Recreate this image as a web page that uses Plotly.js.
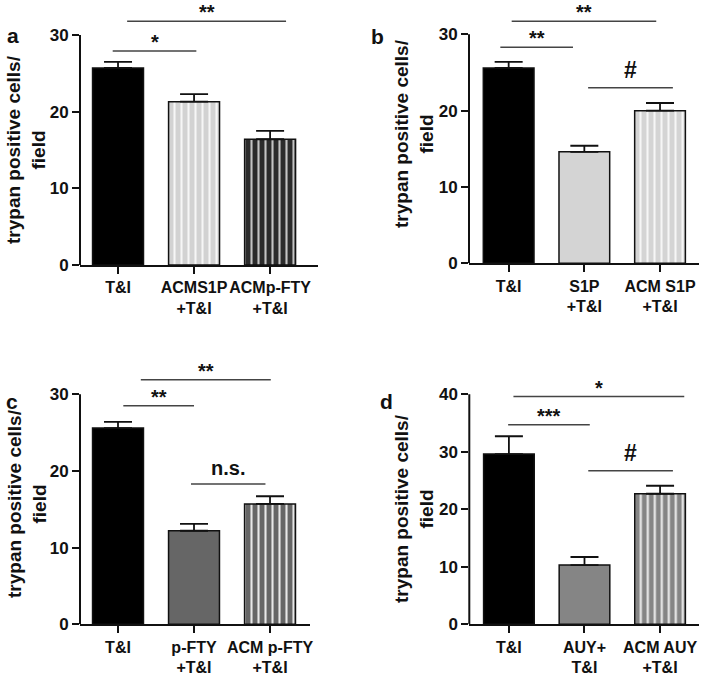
<!DOCTYPE html>
<html><head><meta charset="utf-8">
<script src="https://cdn.plot.ly/plotly-3.0.1.min.js"></script>
<style>html,body{margin:0;padding:0;background:#fff}#chart{width:712px;height:679px}</style>
</head><body><div id="chart"></div>
<script>
// ---------------- data ----------------
const yTitle = 'trypan positive cells/<br>field';
const yTicks30 = [0, 10, 20, 30];
const yTicks40 = [0, 10, 20, 30, 40];

// panel a
const catsA = ['T&I', 'ACMS1P<br>+T&I', 'ACMp-FTY<br>+T&I'];
const meanA = [25.7, 21.3, 16.4];
const semA  = [0.8, 1.0, 1.1];
const sigFromA = [-0.07, 0.12];
const sigToA   = [1.03, 2.21];
const sigYA    = [27.9, 31.8];
const sigTextA = ['*', '**'];

// panel b
const catsB = ['T&I', 'S1P<br>+T&I', 'ACM S1P<br>+T&I'];
const meanB = [25.6, 14.6, 20.0];
const semB  = [0.8, 0.8, 1.0];
const sigFromB = [-0.11, 0.04, 1.05];
const sigToB   = [0.85, 1.95, 2.17];
const sigYB    = [28.3, 31.7, 23.0];
const sigTextB = ['**', '**', '#'];

// panel c
const catsC = ['T&I', 'p-FTY<br>+T&I', 'ACM p-FTY<br>+T&I'];
const meanC = [25.6, 12.2, 15.7];
const semC  = [0.8, 0.9, 1.0];
const sigFromC = [0.07, 0.30, 0.96];
const sigToC   = [1.00, 2.01, 1.94];
const sigYC    = [28.5, 31.9, 18.3];
const sigTextC = ['**', '**', 'n.s.'];

// panel d
const catsD = ['T&I', 'AUY+<br>T&I', 'ACM AUY<br>+T&I'];
const meanD = [29.6, 10.3, 22.7];
const semD  = [3.1, 1.4, 1.4];
const sigFromD = [0.06, -0.01, 1.05];
const sigToD   = [2.32, 1.07, 2.17];
const sigYD    = [39.6, 34.7, 26.7];
const sigTextD = ['*', '***', '#'];

// ---------------- styles ----------------
const FONT = 'Liberation Sans, Arial, Helvetica, sans-serif';
const INK = '#111111';
const styleA = {fill: ['#000000', '#d2d2d2', '#2b2b2b'], shape: ['', '|', '|'], stripe: ['#000000', '#f6f6f6', '#c4c4c4']};
const styleB = {fill: ['#000000', '#d4d4d4', '#d4d4d4'], shape: ['', '', '|'], stripe: ['#000000', '#d4d4d4', '#f6f6f6']};
const styleC = {fill: ['#000000', '#666666', '#666666'], shape: ['', '', '|'], stripe: ['#000000', '#666666', '#e8e8e8']};
const styleD = {fill: ['#000000', '#858585', '#858585'], shape: ['', '', '|'], stripe: ['#000000', '#858585', '#efefef']};

// ---------------- frames (pixel layout) ----------------
const W = 712, H = 679;
const frames = [
  {left: 80,    right: 318, py0: 265,   pyRef: 35,    ref: 30, top: 32.6, xr: [-0.5, 2.63],    lab: [12.5, 35, 'a'], ttl: [26, 150]},
  {left: 469,   right: 699, py0: 263.3, pyRef: 34.3,  ref: 30, top: 32.6, xr: [-0.524, 2.515], lab: [377, 36, 'b'],  ttl: [414, 134]},
  {left: 80,    right: 310, py0: 624.3, pyRef: 394.3, ref: 30, top: 32.6, xr: [-0.5, 2.526],   lab: [12, 401, 'c'],  ttl: [27, 504]},
  {left: 469.3, right: 699, py0: 624.3, pyRef: 394.3, ref: 40, top: 40.6, xr: [-0.524, 2.515], lab: [386, 401, 'd'], ttl: [414, 509]}
];

const panels = [
  {cats: catsA, mean: meanA, sem: semA, style: styleA, ticks: yTicks30, sig: [sigFromA, sigToA, sigYA, sigTextA]},
  {cats: catsB, mean: meanB, sem: semB, style: styleB, ticks: yTicks30, sig: [sigFromB, sigToB, sigYB, sigTextB]},
  {cats: catsC, mean: meanC, sem: semC, style: styleC, ticks: yTicks30, sig: [sigFromC, sigToC, sigYC, sigTextC]},
  {cats: catsD, mean: meanD, sem: semD, style: styleD, ticks: yTicks40, sig: [sigFromD, sigToD, sigYD, sigTextD]}
];

function sigFont(t) { return t === '#' ? 23 : 20; }
function sigShift(t) {
  if (t === '#') return 3;
  if (t === 'n.s.') return 3;
  return -4;
}

const data = [];
const layout = {
  width: W, height: H,
  margin: {l: 0, r: 0, t: 0, b: 0},
  paper_bgcolor: '#ffffff', plot_bgcolor: 'rgba(0,0,0,0)',
  font: {family: FONT, color: INK, size: 17, weight: 'bold'},
  showlegend: false, barmode: 'overlay',
  shapes: [], annotations: []
};

panels.forEach((p, i) => {
  const f = frames[i];
  const s = i === 0 ? '' : String(i + 1);
  const ppu = (f.py0 - f.pyRef) / f.ref;
  const pyTop = f.py0 - f.top * ppu;
  // one trace per bar so each bar gets its own pattern colours
  p.cats.forEach((c, j) => {
    const st = p.style;
    const marker = {color: st.fill[j], line: {color: INK, width: 1.5}};
    if (st.shape[j]) {
      marker.pattern = {shape: st.shape[j], fgcolor: st.stripe[j], bgcolor: st.fill[j],
                        size: 7, solidity: 0.3, fillmode: 'replace'};
    }
    data.push({
      type: 'bar', x: [c], y: [p.mean[j]], xaxis: 'x' + s, yaxis: 'y' + s,
      width: 0.67, marker: marker, opacity: 1,
      error_y: {type: 'data', symmetric: false, array: [p.sem[j]], arrayminus: [0],
                color: INK, thickness: 1.8, width: 14},
      hoverinfo: 'skip', showlegend: false
    });
  });
  layout['xaxis' + s] = {
    domain: [f.left / W, f.right / W], range: f.xr, anchor: 'y' + s,
    type: 'category', categoryorder: 'array', categoryarray: p.cats,
    showline: true, linewidth: 2, linecolor: INK,
    ticks: 'outside', ticklen: 7, tickwidth: 2, tickcolor: INK, tickangle: 0,
    tickfont: {family: FONT, size: 16, weight: 'bold', color: INK},
    showgrid: false, zeroline: false, fixedrange: true
  };
  layout['yaxis' + s] = {
    domain: [1 - f.py0 / H, 1 - pyTop / H], range: [0, f.top], anchor: 'x' + s,
    showline: false, ticks: 'outside', ticklen: 7, tickwidth: 2, tickcolor: INK,
    tickvals: p.ticks, ticktext: p.ticks.map(String),
    tickfont: {family: FONT, size: 17, weight: 'bold', color: INK},
    showgrid: false, zeroline: false, fixedrange: true
  };
  // y axis line from 0 to the last tick
  layout.shapes.push({type: 'line', xref: 'x' + s + ' domain', yref: 'y' + s,
    x0: 0, x1: 0, y0: 0, y1: f.ref, line: {color: INK, width: 2}});
  // significance brackets
  const [x0s, x1s, ys, ts] = p.sig;
  ts.forEach((t, k) => {
    layout.shapes.push({type: 'line', xref: 'x' + s, yref: 'y' + s,
      x0: x0s[k], x1: x1s[k], y0: ys[k], y1: ys[k], line: {color: '#444444', width: 1.5}});
    layout.annotations.push({xref: 'x' + s, yref: 'y' + s, x: (x0s[k] + x1s[k]) / 2, y: ys[k],
      text: t, showarrow: false, xanchor: 'center', yanchor: 'bottom', yshift: sigShift(t),
      font: {family: FONT, size: sigFont(t), weight: 'bold', color: INK}});
  });
  // panel letter
  layout.annotations.push({xref: 'paper', yref: 'paper', x: f.lab[0] / W, y: 1 - f.lab[1] / H,
    text: f.lab[2], showarrow: false, xanchor: 'center', yanchor: 'middle',
    font: {family: FONT, size: 21, weight: 'bold', color: INK}});
  // y-axis title
  layout.annotations.push({xref: 'paper', yref: 'paper', x: f.ttl[0] / W, y: 1 - f.ttl[1] / H,
    text: yTitle, textangle: -90, showarrow: false, xanchor: 'center', yanchor: 'middle',
    font: {family: FONT, size: 19, weight: 'bold', color: INK}});
});

Plotly.newPlot('chart', data, layout, {displayModeBar: false, staticPlot: true});
</script>
</body></html>
